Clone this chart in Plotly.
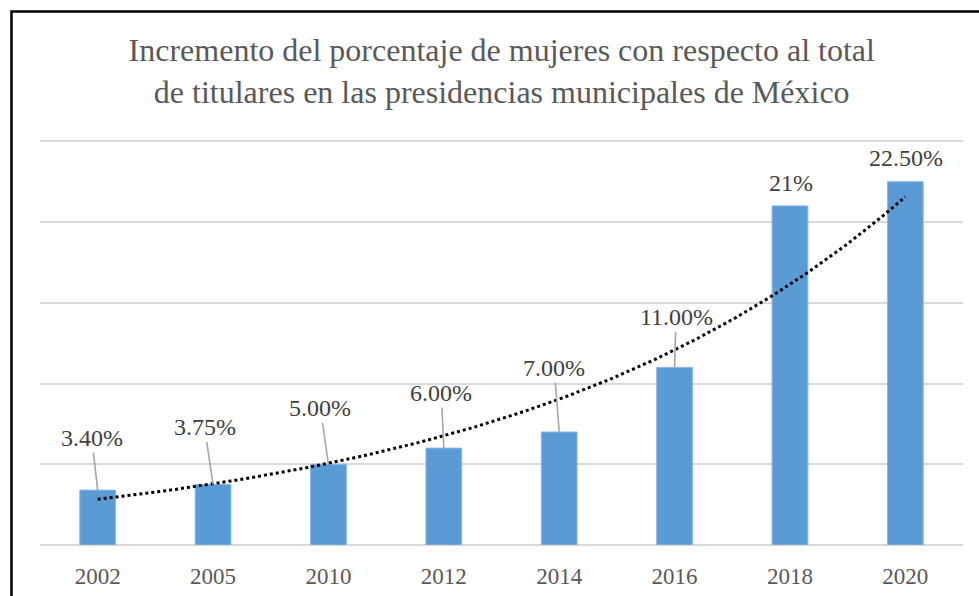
import numpy as np
import plotly.graph_objects as go

years = ["2002", "2005", "2010", "2012", "2014", "2016", "2018", "2020"]
values = [3.40, 3.75, 5.00, 6.00, 7.00, 11.00, 21.00, 22.50]
labels = ["3.40%", "3.75%", "5.00%", "6.00%", "7.00%", "11.00%", "21%", "22.50%"]
# label offsets (pixels) relative to bar top
label_dx = [-6, -8.5, -8, -2.5, -5, 1.5, 1, 0.5]
label_dy = [-52, -57, -56, -55, -64, -50, -23, -23.5]
leader = [True, True, True, True, True, True, False, False]

SERIF = "Liberation Serif, Times New Roman, serif"

xpos = np.arange(len(years))

# exponential trendline (least squares on log values, like Excel)
b, a = np.polyfit(xpos + 1, np.log(values), 1)
xt = np.linspace(0, len(years) - 1, 200)
yt = np.exp(a + b * (xt + 1))

fig = go.Figure()
fig.add_trace(go.Bar(
    x=xpos, y=values, width=0.31,
    marker=dict(color="#5B9BD5", line=dict(color="#8DB8E3", width=1)),
    hoverinfo="skip", showlegend=False,
))
fig.add_trace(go.Scatter(
    x=xt, y=yt, mode="lines",
    line=dict(color="black", width=3, dash="dot"),
    hoverinfo="skip", showlegend=False,
))

for i, v in enumerate(values):
    fig.add_annotation(
        x=xpos[i], y=v, text=labels[i],
        showarrow=True, arrowhead=0, arrowwidth=1.6,
        arrowcolor="#A6A6A6" if leader[i] else "rgba(0,0,0,0)",
        ax=label_dx[i], ay=label_dy[i], standoff=0, startstandoff=0,
        font=dict(family=SERIF, size=24, color="#404040"),
    )

# outer black border of the chart
fig.add_shape(type="rect", xref="paper", yref="paper",
              x0=-0.0309, x1=1.05, y0=-0.2, y1=1.3173,
              line=dict(color="black", width=2.5), fillcolor="rgba(0,0,0,0)",
              layer="above")

fig.update_layout(
    width=979, height=596,
    margin=dict(l=40, r=16, t=140, b=51, autoexpand=False),
    paper_bgcolor="white", plot_bgcolor="white",
    font=dict(family=SERIF),
    title=dict(
        text="Incremento del porcentaje de mujeres con respecto al total<br>de titulares en las presidencias municipales de México",
        x=0.5125, xanchor="center", y=1 - 61 / 596, yanchor="middle", yref="container",
        font=dict(family=SERIF, size=32, color="#595959"),
    ),
    xaxis=dict(
        range=[-0.5, len(years) - 0.5], tickmode="array", tickvals=xpos, ticktext=years,
        showgrid=False, zeroline=False, showline=False, ticks="",
        ticklabelstandoff=15, automargin=False,
        tickfont=dict(family=SERIF, size=23, color="#595959"),
    ),
    yaxis=dict(
        range=[0, 25.08], tickvals=[0, 5, 10, 15, 20, 25], showticklabels=False, showgrid=True,
        gridcolor="#D9D9D9", gridwidth=2, zeroline=True, zerolinecolor="#D9D9D9",
        zerolinewidth=2, ticks="", automargin=False,
    ),
)

fig.write_html("out.html", config={"displayModeBar": False})
with open("out.html", encoding="utf-8") as f:
    html = f.read()
html = html.replace("<head>", "<head><style>html,body{margin:0;padding:0;overflow:hidden;}</style>", 1)
with open("out.html", "w", encoding="utf-8") as f:
    f.write(html)
